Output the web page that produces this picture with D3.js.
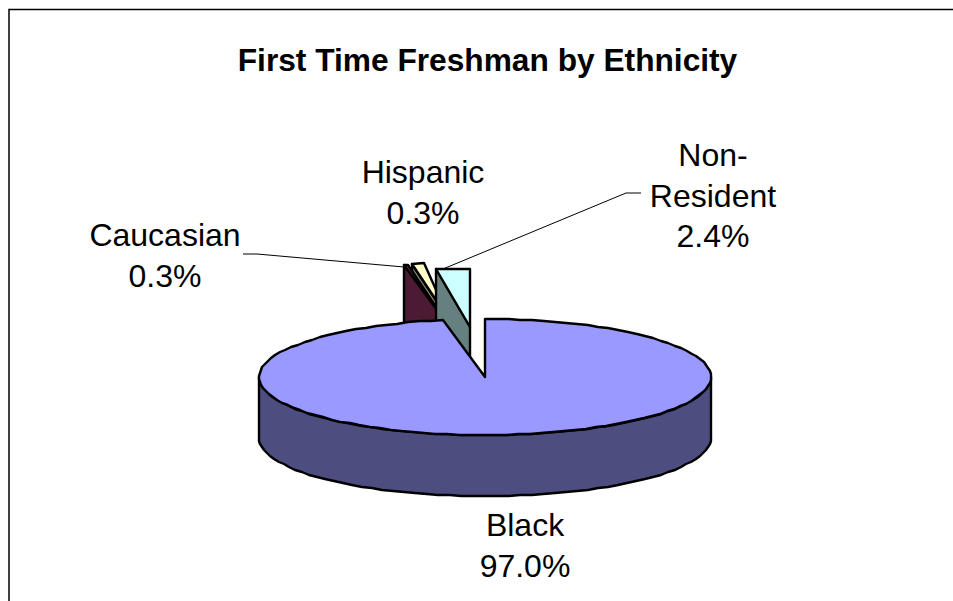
<!DOCTYPE html>
<html>
<head>
<meta charset="utf-8">
<script src="https://cdn.jsdelivr.net/npm/d3@7"></script>
<style>
html, body { margin: 0; background: #fff; }
svg { display: block; }
text { font-family: "Liberation Sans", Arial, sans-serif; fill: #000; }
</style>
</head>
<body>
<script>
const categories = ["Black", "Caucasian", "Hispanic", "Non-Resident"];
const values = [97.0, 0.3, 0.3, 2.4];
const title = "First Time Freshman by Ethnicity";

const topColors = ["#9999ff", "#993366", "#ffffcc", "#ccffff"];
const sideColors = ["#4d4d80", "#4d1a33", "#808066", "#668080"];
const explode = [0, 0.96, 0.98, 0.87];
// thin slices are drawn a bit wider than their share so they stay visible
const extraSweep = [0, 0, 2 * Math.PI / 180, 0];

const w = 953, h = 601;
const depth = 61;

// unit circle -> flattened ellipse on the page
const x = d3.scaleLinear().domain([-1, 1]).range([259, 711]);
const y = d3.scaleLinear().domain([-1, 1]).range([319, 435]);

const svg = d3.select("body").append("svg").attr("width", w).attr("height", h);

// chart frame, only top and left are inside the crop
const frame = d3.line();
svg.append("path").attr("d", frame([[9, h], [9, 9.5], [w, 9.5]]))
  .attr("fill", "none").attr("stroke", "#000").attr("stroke-width", 1.5);

svg.append("text").attr("x", 487.5).attr("y", 71).attr("text-anchor", "middle")
  .attr("font-weight", "bold").attr("font-size", 31.7).text(title);

const arcs = d3.pie().sort(null).value(d => d)(values);
const line = d3.line().curve(d3.curveLinear);

function shift(i) {
  const mid = (arcs[i].startAngle + arcs[i].endAngle) / 2;
  return [Math.sin(mid) * explode[i], -Math.cos(mid) * explode[i]];
}
// points snap to whole pixels, the original outline is stepped like that
function pt(i, a, r, drop) {
  const s = shift(i);
  return [Math.round(x(s[0] + r * Math.sin(a))), Math.round(y(s[1] - r * Math.cos(a)) + (drop || 0))];
}
function rim(a0, a1, i, drop) {
  const n = Math.max(1, Math.round((a1 - a0) / (Math.PI / 60)));
  return d3.range(n + 1).map(k => pt(i, a0 + (a1 - a0) * k / n, 1, drop));
}

function drawPoly(g, points, fill) {
  g.append("path").attr("d", line(points) + "Z")
    .attr("fill", fill).attr("stroke", "#000")
    .attr("stroke-width", 2.4).attr("stroke-linejoin", "round");
}

// leader lines sit behind the slices
const leaders = [
  [[243, 254], [257, 254], [404, 267]],
  [[641, 193], [626, 193], [443, 269]]
];
svg.selectAll(".leader").data(leaders).enter().append("path")
  .attr("class", "leader").attr("d", d => line(d))
  .attr("fill", "none").attr("stroke", "#000").attr("stroke-width", 1);

// exploded slices first, Hispanic goes under Caucasian, then the big one
[2, 1, 3].forEach(i => {
  const g = svg.append("g");
  const a0 = arcs[i].startAngle, a1 = arcs[i].endAngle + extraSweep[i];
  const apex = pt(i, 0, 0), apexLow = pt(i, 0, 0, depth);
  const outer = pt(i, a0, 1), outerLow = pt(i, a0, 1, depth);
  drawPoly(g, [outer, apex, apexLow, outerLow], sideColors[i]);
  drawPoly(g, [apex].concat(rim(a0, a1, i)), topColors[i]);
});

// Black: front wall then top face
const big = svg.append("g");
const wallStart = Math.PI / 2, wallEnd = Math.PI * 1.5;
drawPoly(big, rim(wallStart, wallEnd, 0).concat(rim(wallStart, wallEnd, 0, depth).reverse()), sideColors[0]);
drawPoly(big, [pt(0, 0, 0)].concat(rim(arcs[0].startAngle, arcs[0].endAngle, 0)), topColors[0]);

// data labels
const labelFmt = d3.format(".1f");
const labelSpots = [
  { i: 0, x: 525, y: 536 },
  { i: 1, x: 165, y: 246 },
  { i: 2, x: 423, y: 183 },
  { i: 3, x: 713, y: 166 }
];
const labelLines = ["Black", "Caucasian", "Hispanic", "Non-|Resident"];
labelSpots.forEach(s => {
  const rows = labelLines[s.i].split("|").concat(labelFmt(values[s.i]) + "%");
  const t = svg.append("text").attr("text-anchor", "middle").attr("font-size", 32);
  rows.forEach((r, k) => {
    t.append("tspan").attr("x", s.x).attr("y", s.y + k * 40.5).text(r);
  });
});
</script>
</body>
</html>
